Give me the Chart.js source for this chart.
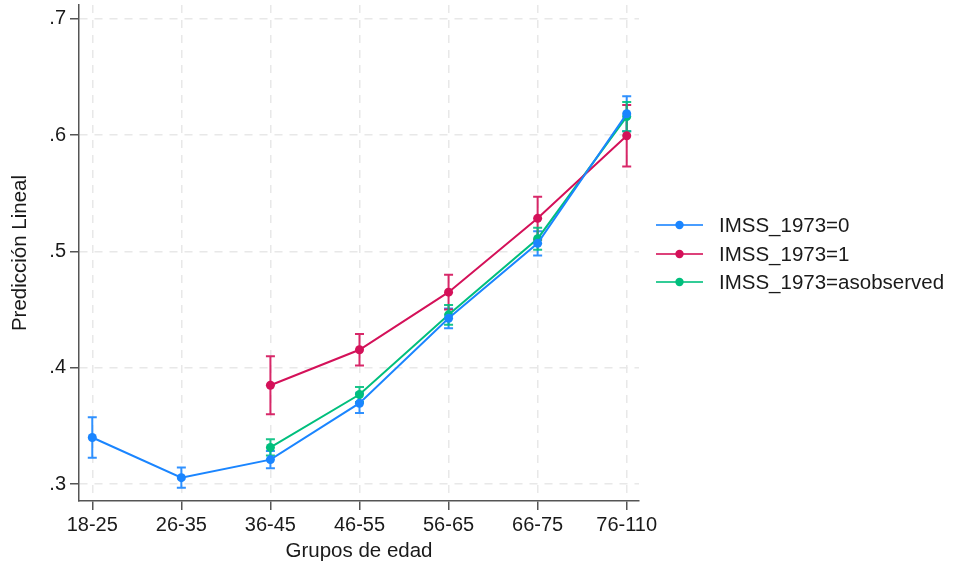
<!DOCTYPE html>
<html>
<head>
<meta charset="utf-8">
<script src="https://cdn.jsdelivr.net/npm/chart.js@4/dist/chart.umd.min.js"></script>
<style>
  html, body { margin: 0; padding: 0; background: #ffffff; }
  #wrap { width: 953px; height: 567px; position: relative; }
</style>
</head>
<body>
<div id="wrap"><canvas id="c" width="953" height="567"></canvas></div>
<script>
// ---- data ----
const categories = ['18-25', '26-35', '36-45', '46-55', '56-65', '66-75', '76-110'];
const yTicks = [0.3, 0.4, 0.5, 0.6, 0.7];
const seriesNames = ['IMSS_1973=0', 'IMSS_1973=1', 'IMSS_1973=asobserved'];

const imss0      = [0.340, 0.3055, 0.321, 0.3695, 0.4425, 0.507, 0.6185];
const imss0Err   = [0.0175, 0.0088, 0.0075, 0.0085, 0.0085, 0.0105, 0.015];
const imss1      = [null, null, 0.385, 0.4155, 0.465, 0.5285, 0.5995];
const imss1Err   = [null, null, 0.025, 0.0135, 0.015, 0.0185, 0.0265];
const asobs      = [null, null, 0.3315, 0.377, 0.4455, 0.511, 0.616];
const asobsErr   = [null, null, 0.007, 0.0065, 0.0085, 0.0095, 0.0125];

const colors = ['#1a85ff', '#d41159', '#00bf7d'];

function toPoints(vals, errs) {
  const out = [];
  vals.forEach((v, i) => {
    if (v !== null) out.push({ x: i, y: v, lo: v - errs[i], hi: v + errs[i] });
  });
  return out;
}

function makeDs(label, vals, errs, color) {
  return {
    label: label,
    data: toPoints(vals, errs),
    borderColor: color,
    backgroundColor: color,
    pointBackgroundColor: color,
    pointBorderColor: color,
    borderWidth: 2,
    pointRadius: 4.5,
    pointBorderWidth: 0,
    tension: 0,
    fill: false
  };
}

const FONT = 'Liberation Sans, Arial, Helvetica, sans-serif';

// error bars drawn through the chart's scales
const errorBars = {
  id: 'errorBars',
  beforeDatasetsDraw(chart) {
    const ctx = chart.ctx;
    const xs = chart.scales.x, ys = chart.scales.y;
    chart.data.datasets.forEach((ds) => {
      ctx.save();
      ctx.strokeStyle = ds.borderColor;
      ctx.globalAlpha = 0.9;
      ctx.lineWidth = 2;
      ds.data.forEach((p) => {
        const px = xs.getPixelForValue(p.x);
        const yl = ys.getPixelForValue(p.lo);
        const yh = ys.getPixelForValue(p.hi);
        ctx.beginPath();
        ctx.moveTo(px, yl); ctx.lineTo(px, yh);
        ctx.moveTo(px - 4.5, yl); ctx.lineTo(px + 4.5, yl);
        ctx.moveTo(px - 4.5, yh); ctx.lineTo(px + 4.5, yh);
        ctx.stroke();
      });
      ctx.restore();
    });
  }
};

// legend on the right: line with a dot, then text
const sideLegend = {
  id: 'sideLegend',
  afterDraw(chart) {
    const ctx = chart.ctx;
    const x0 = 656, x1 = 703, tx = 719;
    const rows = [225, 254, 282];
    chart.data.datasets.forEach((ds, i) => {
      const y = rows[i];
      ctx.save();
      ctx.strokeStyle = ds.borderColor;
      ctx.globalAlpha = 0.8;
      ctx.lineWidth = 2;
      ctx.beginPath(); ctx.moveTo(x0, y); ctx.lineTo(x1, y); ctx.stroke();
      ctx.globalAlpha = 1;
      ctx.fillStyle = ds.borderColor;
      ctx.beginPath(); ctx.arc((x0 + x1) / 2, y, 4.2, 0, Math.PI * 2); ctx.fill();
      ctx.fillStyle = '#1a1a1a';
      ctx.font = '20.5px ' + FONT;
      ctx.textBaseline = 'middle';
      ctx.textAlign = 'left';
      ctx.fillText(ds.label, tx, y + 1);
      ctx.restore();
    });
  }
};

new Chart(document.getElementById('c'), {
  type: 'line',
  data: {
    datasets: [
      makeDs(seriesNames[0], imss0, imss0Err, colors[0]),
      makeDs(seriesNames[1], imss1, imss1Err, colors[1]),
      makeDs(seriesNames[2], asobs, asobsErr, colors[2])
    ]
  },
  options: {
    responsive: false,
    animation: false,
    devicePixelRatio: 1,
    layout: { padding: { left: 0, right: 314, top: 5, bottom: 0 } },
    plugins: { legend: { display: false }, tooltip: { enabled: false } },
    scales: {
      x: {
        type: 'linear',
        min: -0.149,
        max: 6.138,
        afterBuildTicks(s) { s.ticks = categories.map((c, i) => ({ value: i })); },
        afterFit(s) { s.height = 66; s.paddingLeft = 0; s.paddingRight = 0; },
        ticks: {
          callback: (v) => categories[v],
          color: '#1a1a1a',
          font: { family: FONT, size: 20 },
          padding: 3,
          maxRotation: 0,
          autoSkip: false
        },
        grid: {
          color: '#e8e8e8',
          lineWidth: 1.5,
          tickLength: 9,
          tickColor: '#555555',
          tickWidth: 1.5,
          tickBorderDash: [1, 0]
        },
        border: { display: true, color: '#555555', width: 1.5, dash: [8, 7] },
        title: {
          display: true,
          text: 'Grupos de edad',
          color: '#1a1a1a',
          font: { family: FONT, size: 20.5 },
          padding: { top: 3, bottom: 3 }
        }
      },
      y: {
        type: 'linear',
        min: 0.2854,
        max: 0.7120,
        afterBuildTicks(s) { s.ticks = yTicks.map((v) => ({ value: v })); },
        afterFit(s) { s.width = 79; s.paddingTop = 0; s.paddingBottom = 0; },
        ticks: {
          callback: (v) => v.toFixed(1).replace(/^0/, ''),
          color: '#1a1a1a',
          font: { family: FONT, size: 20 },
          padding: 4
        },
        grid: {
          color: '#e8e8e8',
          lineWidth: 1.5,
          tickLength: 9,
          tickColor: '#555555',
          tickWidth: 1.5,
          tickBorderDash: [1, 0]
        },
        border: { display: true, color: '#555555', width: 1.5, dash: [8, 7] },
        title: {
          display: true,
          text: 'Predicción Lineal',
          color: '#1a1a1a',
          font: { family: FONT, size: 20.5 },
          padding: { top: 8, bottom: 0 }
        }
      }
    }
  },
  plugins: [errorBars, sideLegend]
});
</script>
</body>
</html>
